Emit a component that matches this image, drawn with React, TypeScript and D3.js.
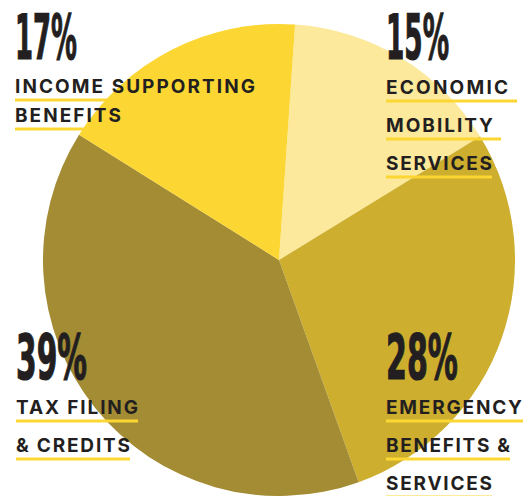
import React from "react";
import * as d3 from "d3";

const categories = ["Economic Mobility Services", "Emergency Benefits & Services", "Tax Filing & Credits", "Income Supporting Benefits"];
const values = [15, 28, 39, 17];
const colors = ["#FCE99B", "#CDAE2E", "#A38C33", "#FCD733"];
const pctLabels = ["15%", "28%", "39%", "17%"];
const labelLines = [
  ["ECONOMIC", "MOBILITY", "SERVICES"],
  ["EMERGENCY", "BENEFITS &", "SERVICES"],
  ["TAX FILING", "& CREDITS"],
  ["INCOME SUPPORTING", "BENEFITS"],
];

// layout (positions only)
const W = 530, H = 496;
const CX = 279, CY = 260, R = 236;
const START = (3.9 * Math.PI) / 180;
const labelLayout = [
  { x: 386, pctBase: 59, pctW: 63, lineBase: 94, gap: 38, textW: [122, 107, 106], ulW: [131, 115, 106] },
  { x: 386, pctBase: 379, pctW: 72, lineBase: 414, gap: 38, textW: [136, 124, 106], ulW: [137, 124, 106] },
  { x: 16, pctBase: 379, pctW: 71, lineBase: 414, gap: 38, textW: [122, 114], ulW: [122, 114] },
  { x: 15, pctBase: 59, pctW: 62, lineBase: 93, gap: 29, textW: [240, 106], ulW: [240, 106] },
];

export default function App() {
  const pie = d3
    .pie<number>()
    .sort(null)
    .startAngle(START)
    .endAngle(START + 2 * Math.PI)
    .value((d) => d);
  const arcs = pie(values);
  const arc = d3.arc<d3.PieArcDatum<number>>().innerRadius(0).outerRadius(R);

  return (
    <svg
      width={W}
      height={H}
      style={{ position: "absolute", left: 0, top: 0, background: "#fff" }}
    >
      <g transform={`translate(${CX},${CY})`}>
        {arcs.map((a, i) => (
          <path key={categories[i]} d={arc(a) || ""} fill={colors[i]} />
        ))}
      </g>
      {labelLayout.map((L, i) => (
        <g key={"lab" + i}>
          <text
            x={L.x}
            y={L.pctBase}
            fontFamily="'Liberation Sans Narrow', 'DejaVu Sans Condensed', sans-serif"
            fontWeight={700}
            fontSize={63}
            fill="#231F20"
            stroke="#231F20"
            strokeWidth={1.2}
            textLength={L.pctW}
            lengthAdjust="spacingAndGlyphs"
          >
            {pctLabels[i]}
          </text>
          {labelLines[i].map((ln, j) => {
            const y = L.lineBase + j * L.gap;
            return (
              <g key={ln + j}>
                <rect x={L.x} y={y + 5.5} width={L.ulW[j]} height={3} fill="#FCD733" />
                <text
                  x={L.x}
                  y={y}
                  fontFamily="Inter, 'Open Sans', sans-serif"
                  fontWeight={700}
                  fontSize={19}
                  fill="#231F20"
                  textLength={L.textW[j]}
                  lengthAdjust="spacing"
                >
                  {ln}
                </text>
              </g>
            );
          })}
        </g>
      ))}
    </svg>
  );
}
